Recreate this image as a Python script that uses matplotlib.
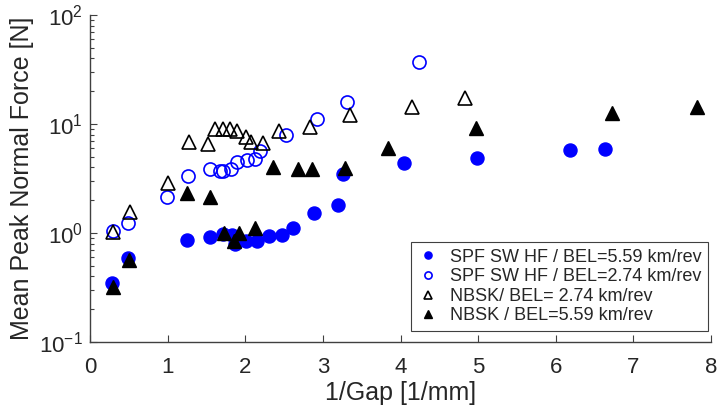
import numpy as np
import matplotlib
matplotlib.use("Agg")
import matplotlib.pyplot as plt

plt.rcParams['font.family'] = ['Liberation Sans', 'DejaVu Sans']
plt.rcParams['mathtext.fontset'] = 'custom'
plt.rcParams['mathtext.rm'] = 'Liberation Sans'

# SPF SW HF, BEL = 5.59 km/rev
spf_hi_x = [0.28, 0.49, 1.25, 1.54, 1.71, 1.83, 1.87, 2.01, 2.15, 2.31, 2.47, 2.61,
            2.88, 3.19, 3.26, 4.05, 4.98, 6.18, 6.63]
spf_hi_y = [0.35, 0.59, 0.86, 0.91, 0.98, 0.96, 0.80, 0.84, 0.84, 0.93, 0.96, 1.12,
            1.54, 1.80, 3.47, 4.37, 4.90, 5.76, 5.92]

# SPF SW HF, BEL = 2.74 km/rev
spf_lo_x = [0.29, 0.49, 0.99, 1.26, 1.54, 1.67, 1.71, 1.82, 1.90, 2.02, 2.12, 2.19,
            2.53, 2.93, 3.31, 4.24]
spf_lo_y = [1.04, 1.24, 2.15, 3.33, 3.85, 3.72, 3.70, 3.83, 4.44, 4.66, 4.76, 5.64,
            7.9, 11.2, 16.0, 37.0]

# NBSK, BEL = 2.74 km/rev
nbsk_lo_x = [0.29, 0.51, 1.00, 1.27, 1.52, 1.61, 1.71, 1.80, 1.90, 2.01, 2.08, 2.23,
             2.44, 2.84, 3.35, 4.15, 4.83]
nbsk_lo_y = [1.02, 1.56, 2.88, 6.78, 6.54, 8.98, 8.91, 8.91, 8.66, 7.63, 6.87, 6.72,
             8.66, 9.31, 12.2, 14.4, 17.5]

# NBSK, BEL = 5.59 km/rev
nbsk_hi_x = [0.29, 0.50, 1.25, 1.55, 1.73, 1.85, 1.92, 2.12, 2.36, 2.68, 2.86, 3.29,
             3.84, 4.97, 6.72, 7.82]
nbsk_hi_y = [0.32, 0.57, 2.31, 2.15, 1.01, 0.85, 0.99, 1.10, 3.99, 3.83, 3.83, 3.94,
             5.97, 9.12, 12.7, 14.2]

labels = ['SPF SW HF / BEL=5.59 km/rev', 'SPF SW HF / BEL=2.74 km/rev',
          'NBSK/ BEL= 2.74 km/rev', 'NBSK / BEL=5.59 km/rev']

fig = plt.figure(figsize=(7.17, 4.08), dpi=100)
ax = fig.add_axes([90 / 717, 1 - 342 / 408, 621 / 717, 327 / 408])

ms = 9.4
ax.plot(spf_hi_x, spf_hi_y, 'o', color='#0000ff', ms=ms, mec='#0000ff', label=labels[0])
ax.plot(spf_lo_x, spf_lo_y, 'o', mfc='none', mec='#0000ff', mew=1.2, ms=ms, label=labels[1])
ax.plot(nbsk_lo_x, nbsk_lo_y, '^', mfc='none', mec='black', mew=1.2, ms=ms + 0.6, label=labels[2])
ax.plot(nbsk_hi_x, nbsk_hi_y, '^', color='black', ms=ms + 0.6, label=labels[3])

ax.set_yscale('log')
ax.set_xlim(0, 8)
ax.set_ylim(0.1, 100)
ax.set_xticks(range(0, 9))

for side in ['top', 'right']:
    ax.spines[side].set_visible(False)
for side in ['left', 'bottom']:
    ax.spines[side].set_color('#404040')
    ax.spines[side].set_linewidth(1.0)

ax.tick_params(which='both', direction='in', colors='#404040', labelcolor='#262626',
               labelsize=16)
ax.tick_params(which='major', length=5, width=0.8)
ax.tick_params(which='minor', length=3, width=0.8)
ax.tick_params(axis='x', pad=11)
ax.tick_params(axis='y', pad=5)

ax.set_xlabel('1/Gap [1/mm]', fontsize=18, color='#262626', labelpad=2)
ax.set_ylabel('Mean Peak Normal Force [N]', fontsize=18, color='#262626', labelpad=4)

leg = ax.legend(loc='lower right', bbox_to_anchor=(0.9947, 0.0346), borderaxespad=0,
                fontsize=13, markerscale=0.55, fancybox=False, framealpha=1,
                edgecolor='#404040', handlelength=1.2, handletextpad=0.6,
                labelspacing=0.14, borderpad=0.35)
leg.get_frame().set_linewidth(0.8)
for t in leg.get_texts():
    t.set_color('#262626')

fig.savefig('out.png', dpi=100)
